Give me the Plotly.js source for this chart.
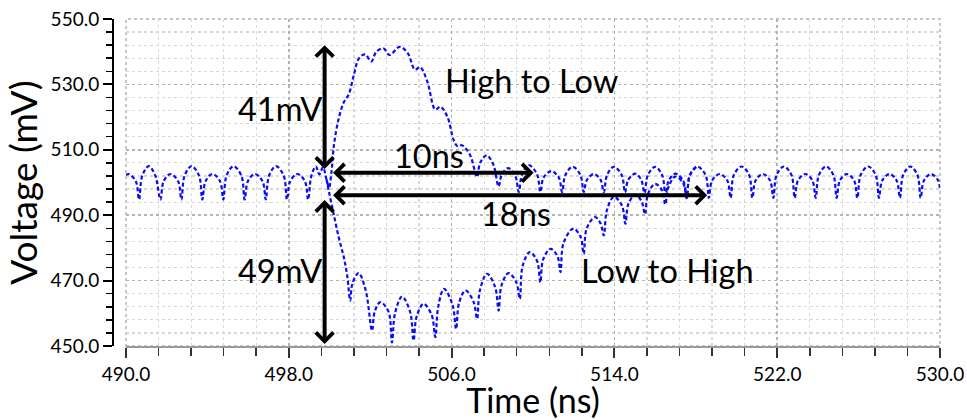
<!DOCTYPE html>
<html>
<head>
<meta charset="utf-8">
<script src="https://cdn.plot.ly/plotly-3.0.1.min.js"></script>
<style>
  html, body { margin: 0; padding: 0; background: #ffffff; }
  #chart { width: 967px; height: 420px; }
</style>
</head>
<body>
<div id="chart"></div>
<script>
// ---- Data ----
// Common ripple before the switching event (both traces overlap)
const preTime = [490.00, 490.12, 490.48, 490.64, 490.80, 491.12, 491.44, 491.69, 491.85, 492.18,
                 492.56, 492.72, 492.88, 493.22, 493.59, 493.75, 493.91, 494.25, 494.62, 494.78,
                 494.94, 495.28, 495.67, 495.83, 495.99, 496.33, 496.71, 496.87, 497.03, 497.37,
                 497.75, 497.91, 498.07, 498.42, 498.79, 498.95, 499.11, 499.33, 499.50, 499.68, 499.85];
const preVolt = [502.2, 502.6, 500.4, 494.8, 502.1, 505.0, 502.1, 494.8, 500.4, 502.6,
                 500.4, 494.8, 502.1, 505.0, 502.1, 494.8, 500.4, 502.6, 500.4, 494.8,
                 502.1, 505.0, 502.1, 494.8, 500.4, 502.6, 500.4, 494.8, 502.1, 505.0,
                 502.1, 494.8, 500.4, 502.6, 500.4, 494.8, 502.1, 504.9, 502.5, 504.7, 501.0];

// "High to Low" transient
const h2lTime = [499.98, 500.10, 500.22, 500.45, 500.70, 500.95, 501.20, 501.45, 501.75, 502.05,
                 502.30, 502.65, 502.95, 503.45, 503.85, 504.20, 504.45, 504.80, 505.20, 505.45,
                 505.80, 506.10, 506.30, 506.50, 506.90, 507.25, 507.40, 507.72, 508.05, 508.31,
                 508.47, 508.78, 509.13, 509.30, 509.46, 509.79, 510.20, 510.36, 510.52, 510.90,
                 511.27, 511.43, 511.59, 511.95, 512.33, 512.49, 512.65, 513.00, 513.32, 513.48,
                 513.64, 513.97, 514.36, 514.52, 514.68, 515.03, 515.32, 515.48, 515.64, 516.00,
                 516.35, 516.51, 516.67, 517.00, 517.38, 517.55, 517.71];
const h2lVolt = [498.5, 503.5, 511.5, 519.5, 524.5, 527.0, 533.0, 538.0, 539.2, 537.0,
                 540.0, 541.0, 539.0, 541.5, 539.5, 534.5, 535.3, 531.0, 522.3, 523.2,
                 520.0, 513.0, 511.0, 511.4, 508.5, 501.7, 506.0, 508.3, 505.5, 498.8,
                 502.5, 504.4, 502.0, 497.1, 502.5, 505.3, 502.5, 497.1, 501.5, 503.5,
                 501.5, 497.1, 502.3, 504.8, 502.3, 497.1, 500.8, 502.6, 500.8, 497.1,
                 502.3, 504.8, 502.3, 497.0, 500.8, 502.7, 500.8, 496.8, 502.2, 504.8,
                 502.2, 496.0, 500.6, 502.7, 500.6, 495.5, 502.3];

// "Low to High" transient
const l2hTime = [499.98, 500.20, 500.45, 500.70, 500.87, 501.02, 501.12, 501.43, 501.78, 502.09,
                 502.22, 502.50, 502.90, 503.07, 503.22, 503.56, 503.96, 504.13, 504.28, 504.62,
                 505.02, 505.20, 505.34, 505.63, 506.05, 506.22, 506.36, 506.68, 507.08, 507.25,
                 507.39, 507.74, 508.14, 508.31, 508.45, 508.80, 509.18, 509.35, 509.49, 509.84,
                 510.20, 510.36, 510.50, 510.86, 511.20, 511.35, 511.50, 511.98, 512.33, 512.49,
                 512.64, 513.05, 513.32, 513.48, 513.63, 513.97, 514.37, 514.54, 514.69, 515.04,
                 515.35, 515.50, 515.65, 516.00, 516.35, 516.50, 516.65, 517.00, 517.38, 517.55, 517.71];
const l2hVolt = [497.0, 490.5, 483.3, 477.2, 471.5, 463.9, 469.0, 472.3, 467.0, 454.7,
                 460.5, 463.4, 460.5, 451.1, 460.0, 465.1, 460.5, 451.7, 459.0, 462.9,
                 459.5, 452.7, 462.0, 467.5, 462.5, 455.2, 463.0, 467.0, 463.5, 458.3,
                 467.0, 472.1, 468.0, 460.8, 468.5, 472.3, 469.5, 464.4, 474.5, 478.7,
                 476.0, 469.5, 476.5, 479.7, 477.5, 472.6, 481.5, 485.9, 483.5, 478.2,
                 486.0, 489.4, 487.5, 483.8, 491.5, 495.6, 493.0, 487.4, 493.5, 496.3,
                 494.0, 490.3, 496.5, 499.6, 497.5, 493.3, 498.5, 501.8, 499.8, 495.2, 502.3];

// Common ripple after both transients settle
const postTime = [518.07, 518.48, 518.64, 518.80, 519.18, 519.55, 519.71, 519.87, 520.25, 520.62,
                  520.78, 520.94, 521.30, 521.65, 521.81, 521.97, 522.33, 522.70, 522.86, 523.02,
                  523.38, 523.73, 523.89, 524.05, 524.40, 524.76, 524.92, 525.08, 525.43, 525.78,
                  525.94, 526.10, 526.47, 526.84, 527.00, 527.16, 527.52, 527.87, 528.03, 528.19,
                  528.54, 528.89, 529.05, 529.21, 529.56, 529.91, 530.00];
const postVolt = [504.9, 502.3, 495.3, 500.6, 502.6, 500.6, 495.3, 502.3, 504.9, 502.3,
                  495.3, 500.6, 502.6, 500.6, 495.3, 502.3, 504.9, 502.3, 495.3, 500.6,
                  502.6, 500.6, 495.3, 502.3, 504.9, 502.3, 495.3, 500.6, 502.6, 500.6,
                  495.3, 502.3, 504.9, 502.3, 495.3, 500.6, 502.6, 500.6, 495.3, 502.3,
                  504.9, 502.3, 495.3, 500.6, 502.6, 500.6, 497.5];

const seriesNames = ["High to Low", "Low to High"];

// Annotation texts and positions
const labelTexts = ["41mV", "49mV", "High to Low", "10ns", "18ns", "Low to High"];
const labelTime  = [497.57, 497.57, 509.95, 504.89, 509.16, 516.63];
const labelVolt  = [522.7, 473.1, 531.3, 508.3, 490.6, 473.1];

// arrows: from (x0, y0) to (x1, y1), heads at both ends
const arrowX0 = [499.76, 499.76, 500.10, 500.10];
const arrowY0 = [503.7, 495.1, 503.0, 496.1];
const arrowX1 = [499.76, 499.76, 510.03, 518.56];
const arrowY1 = [542.0, 450.6, 503.0, 496.1];

// ---- Build traces ----
const FONT = "Lato, 'Open Sans', 'Noto Sans', sans-serif";
const blue = "rgb(10,10,245)";
const lineStyle = { color: blue, width: 2.2, dash: "4px,2.5px", shape: "spline", smoothing: 1 };

// Trace 1 carries the shared ripple before and after the event (drawn once, as in the picture)
const h2l = {
  x: preTime.concat(h2lTime, postTime),
  y: preVolt.concat(h2lVolt, postVolt),
  name: seriesNames[0], type: "scatter", mode: "lines",
  line: lineStyle, hoverinfo: "skip"
};
// Trace 2 only where it departs from trace 1
const lastPre = preTime.length - 1;
const l2h = {
  x: [preTime[lastPre]].concat(l2hTime, [postTime[0]]),
  y: [preVolt[lastPre]].concat(l2hVolt, [postVolt[0]]),
  name: seriesNames[1], type: "scatter", mode: "lines",
  line: lineStyle, hoverinfo: "skip"
};

const annotations = [];
for (let i = 0; i < labelTexts.length; i++) {
  annotations.push({
    x: labelTime[i], y: labelVolt[i], xref: "x", yref: "y",
    text: labelTexts[i], showarrow: false,
    font: { family: FONT, size: 32.5, color: "#000" },
    xanchor: "center", yanchor: "middle"
  });
}
for (let i = 0; i < arrowX0.length; i++) {
  annotations.push({
    x: arrowX1[i], y: arrowY1[i], ax: arrowX0[i], ay: arrowY0[i],
    xref: "x", yref: "y", axref: "x", ayref: "y",
    text: "", showarrow: true, arrowside: "end+start",
    arrowhead: 4, startarrowhead: 4, arrowsize: 0.85, startarrowsize: 0.85,
    arrowwidth: 4, arrowcolor: "#000", standoff: 0, startstandoff: 0
  });
}

const layout = {
  width: 967, height: 420,
  margin: { l: 113, r: 27, t: 19, b: 74, pad: 0 },
  paper_bgcolor: "#ffffff", plot_bgcolor: "#ffffff",
  showlegend: false,
  font: { family: FONT, color: "#000" },
  xaxis: {
    domain: [13 / 827, 1],
    range: [490, 530], tick0: 490, dtick: 8, tickformat: ".1f",
    showline: true, linecolor: "#9a9a9a", linewidth: 2,
    ticks: "outside", ticklen: 10, tickwidth: 2, tickcolor: "#333",
    tickfont: { family: FONT, size: 19, color: "#000" },
    showgrid: true, gridcolor: "#b4b4b4", gridwidth: 1.5, griddash: "dot",
    zeroline: false,
    minor: { dtick: 1.6, tick0: 490, ticks: "outside", ticklen: 8, tickwidth: 1.5, tickcolor: "#333",
             showgrid: true, gridcolor: "#d8d8d8", gridwidth: 1.2, griddash: "dot" },
    title: { text: "Time (ns)", font: { family: FONT, size: 34, color: "#000" }, standoff: 0 }
  },
  yaxis: {
    anchor: "free", position: 0,
    range: [450, 550], tick0: 450, dtick: 20, tickformat: ".1f",
    showline: true, linecolor: "#000", linewidth: 2,
    ticks: "outside", ticklen: 9, tickwidth: 2, tickcolor: "#000",
    tickfont: { family: FONT, size: 19, color: "#000" },
    showgrid: true, gridcolor: "#b4b4b4", gridwidth: 1.5, griddash: "dot",
    zeroline: false,
    minor: { dtick: 4, tick0: 450, ticks: "outside", ticklen: 6, tickwidth: 1.5, tickcolor: "#000",
             showgrid: true, gridcolor: "#d8d8d8", gridwidth: 1.2, griddash: "dot" },
    title: { text: "Voltage (mV)", font: { family: FONT, size: 37, color: "#000" }, standoff: 4 }
  },
  shapes: [{
    type: "rect", xref: "x domain", yref: "y domain", x0: 0, x1: 1, y0: 0, y1: 1,
    line: { color: "#b4b4b4", width: 1.5, dash: "dot" }, layer: "below"
  }],
  annotations: annotations
};

Plotly.newPlot("chart", [h2l, l2h], layout, { displayModeBar: false, staticPlot: true });
</script>
</body>
</html>
